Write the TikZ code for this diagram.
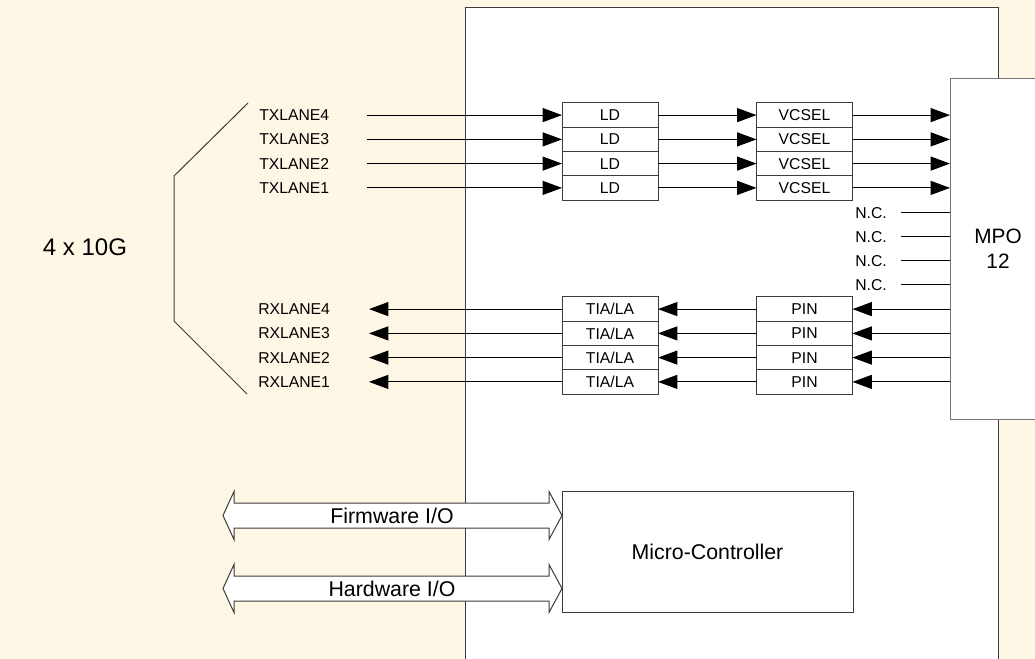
\documentclass[tikz,border=0pt]{standalone}
\usepackage{fontspec}
\setmainfont{Liberation Sans}
\usetikzlibrary{arrows.meta,calc}
\definecolor{bgcream}{RGB}{255,247,229}
\definecolor{edgegray}{RGB}{60,60,60}
\begin{document}
\begin{tikzpicture}[x=0.75pt,y=-0.75pt,
  smallfont/.style={font=\fontsize{11.8}{14}\selectfont},
  lanebox/.style={draw=edgegray,line width=0.75pt,fill=white,minimum width=72pt,minimum height=18.19pt,inner sep=0pt,outer sep=0pt,smallfont},
  lbl/.style={anchor=west,inner sep=0pt,smallfont},
  sig/.style={draw=black,line width=0.75pt,-{Triangle[length=14.5pt,width=10.5pt]}},
  plain/.style={draw=black,line width=0.75pt},
  outline/.style={draw=edgegray,line width=0.75pt}]
\useasboundingbox (0,0) rectangle (1035,659);
\fill[bgcream] (0,0) rectangle (1035,659);
% module outline
\draw[outline,fill=white] (465,8) rectangle (998,680);
% MPO connector
\node[draw=black!55,line width=0.75pt,fill=white,minimum width=72pt,minimum height=255pt,inner sep=0pt,outer sep=0pt,
      align=center,font=\fontsize{15.6}{18.8}\selectfont] (mpo) at (998,249) {MPO\\12};
% bracket and 4 x 10G
\draw[outline] (248,103) -- (174,176) -- (174,321) -- (247,394);
\node[font=\fontsize{18}{21}\selectfont,inner sep=0pt] (agg) at (85,247) {4 x 10G};
% TX lanes
\foreach \i/\y in {4/115.1,3/139.4,2/163.6,1/187.9}{
  \node[lbl] (tx\i) at (259,\y) {TXLANE\i};
  \coordinate (txs\i) at (367,\y);
  \node[lanebox] (ld\i) at (610,\y) {LD};
  \node[lanebox] (vc\i) at (804.5,\y) {VCSEL};
  \draw[sig] (txs\i) -- (ld\i.west);
  \draw[sig] (ld\i.east) -- (vc\i.west);
  \draw[sig] (vc\i.east) -- (vc\i.east -| mpo.west);
}
% N.C. lines
\foreach \k/\y in {1/213,2/237,3/261,4/285}{
  \node[lbl] (nc\k) at (855,\y) {N.C.};
  \coordinate (ncs\k) at (901,\y);
  \draw[plain] (ncs\k) -- (ncs\k -| mpo.west);
}
% RX lanes
\foreach \i/\y in {4/309.1,3/333.4,2/357.6,1/381.9}{
  \node[lbl] (rx\i) at (258,\y) {RXLANE\i};
  \coordinate (rxe\i) at (369,\y);
  \node[lanebox] (tia\i) at (610,\y) {TIA/LA};
  \node[lanebox] (pin\i) at (804.5,\y) {PIN};
  \draw[sig] (pin\i.east -| mpo.west) -- (pin\i.east);
  \draw[sig] (pin\i.west) -- (tia\i.east);
  \draw[sig] (tia\i.west) -- (rxe\i);
}
% Micro-controller
\node[outline,fill=white,minimum width=218.25pt,minimum height=90.75pt,inner sep=0pt,outer sep=0pt,
      font=\fontsize{16}{19}\selectfont] (mcu) at (707.5,551.5) {Micro-Controller};
% double arrows
\draw[outline,fill=white] (223,515.5) -- (234,491.5) -- (234,503) -- (549,503) -- (549,491.5) -- (562,515.5)
  -- (549,539.5) -- (549,528) -- (234,528) -- (234,539.5) -- cycle;
\node[font=\fontsize{16}{19}\selectfont,inner sep=0pt] (fw) at (392,515.5) {Firmware I/O};
\draw[outline,fill=white] (223,588.5) -- (234,564.5) -- (234,576) -- (549,576) -- (549,564.5) -- (562,588.5)
  -- (549,612.5) -- (549,601) -- (234,601) -- (234,612.5) -- cycle;
\node[font=\fontsize{16}{19}\selectfont,inner sep=0pt] (hw) at (392,588.5) {Hardware I/O};
\end{tikzpicture}
\end{document}
